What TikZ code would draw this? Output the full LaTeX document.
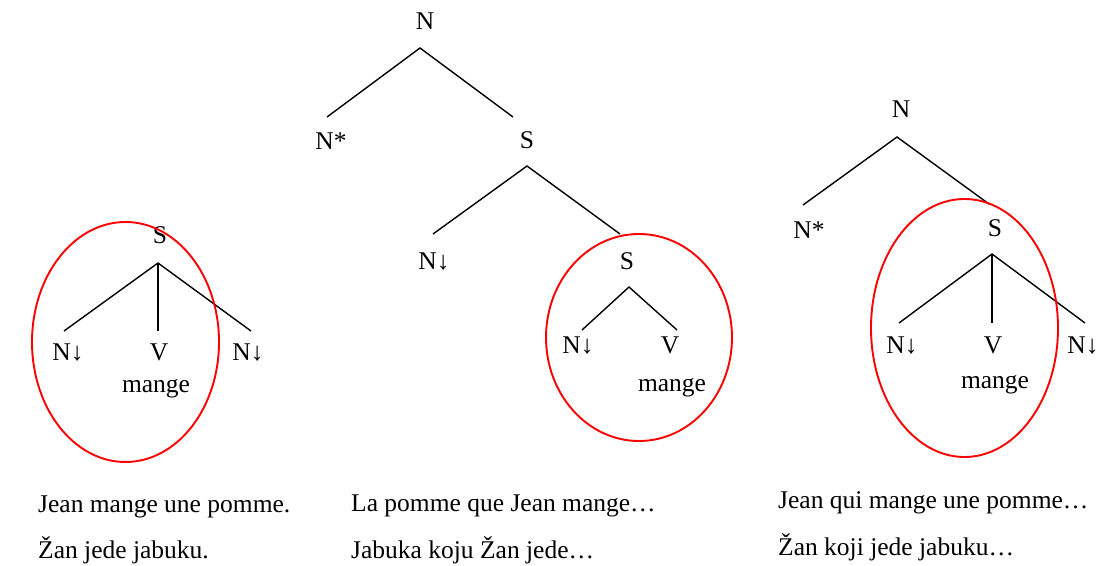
\documentclass[tikz,border=0pt]{standalone}
\usepackage{fontspec}
\setmainfont{Liberation Serif}
\usetikzlibrary{shapes.geometric}
\begin{document}
\begin{tikzpicture}[x=1pt,y=-1pt,
  lbl/.style={anchor=base,inner sep=0pt,font=\fontsize{25.5}{30}\selectfont},
  sent/.style={anchor=base west,inner sep=0pt,font=\fontsize{25.5}{30}\selectfont},
  edge/.style={line width=1.4pt,black},
  ring/.style={line width=1.9pt,red,draw,ellipse,inner sep=0pt}]
\useasboundingbox (0,0) rectangle (1116,565);
% ---------- tree 1
\node[lbl] (aS) at (160,243) {S};
\node[lbl] (aN1) at (68,360) {N↓};
\node[lbl] (aV) at (159,360) {V};
\node[lbl] (aN2) at (248,360) {N↓};
\node[lbl] (aM) at (156,392) {mange};
\coordinate (aSb) at (158,263);
\coordinate (aN1t) at (64,331);
\coordinate (aVt) at (158,331);
\coordinate (aN2t) at (251,331);
\draw[edge] (aN1t) -- (aSb) -- (aN2t);
\draw[edge] (aSb) -- (aVt);
\node[ring,minimum width=187pt,minimum height=240pt] (aE) at (125.5,342) {};
% ---------- tree 2
\node[lbl] (bN) at (425,29) {N};
\node[lbl] (bNs) at (331,149) {N*};
\node[lbl] (bS) at (527,148) {S};
\node[lbl] (bN1) at (434,269) {N↓};
\node[lbl] (bS2) at (627,269) {S};
\node[lbl] (bN2) at (578,353) {N↓};
\node[lbl] (bV) at (670,353) {V};
\node[lbl] (bM) at (672,391) {mange};
\coordinate (bNb) at (420,48);
\coordinate (bNst) at (327,117);
\coordinate (bSt) at (513,117);
\coordinate (bSb) at (527,166);
\coordinate (bN1t) at (433,234);
\coordinate (bS2t) at (620,234);
\coordinate (bS2b) at (629,287);
\coordinate (bN2t) at (582,330);
\coordinate (bVt) at (677,330);
\draw[edge] (bNst) -- (bNb) -- (bSt);
\draw[edge] (bN1t) -- (bSb) -- (bS2t);
\draw[edge] (bN2t) -- (bS2b) -- (bVt);
\node[ring,minimum width=186pt,minimum height=207pt] (bE) at (639,337.5) {};
% ---------- tree 3
\node[lbl] (cN) at (901,117) {N};
\node[lbl] (cNs) at (809,238) {N*};
\node[lbl] (cS) at (995,236) {S};
\node[lbl] (cN1) at (902,353) {N↓};
\node[lbl] (cV) at (993,353) {V};
\node[lbl] (cN2) at (1083,353) {N↓};
\node[lbl] (cM) at (995,388) {mange};
\coordinate (cNb) at (897,137);
\coordinate (cNst) at (803,205);
\coordinate (cSt) at (989,204);
\coordinate (cSb) at (992,254);
\coordinate (cN1t) at (899,323);
\coordinate (cVt) at (992,323);
\coordinate (cN2t) at (1085,323);
\draw[edge] (cNst) -- (cNb) -- (cSt);
\draw[edge] (cN1t) -- (cSb) -- (cN2t);
\draw[edge] (cSb) -- (cVt);
\node[ring,minimum width=187pt,minimum height=258pt] (cE) at (964.5,328) {};
% ---------- sentences
\node[sent] (s1a) at (38,512) {Jean mange une pomme.};
\node[sent] (s1b) at (38,558) {Žan jede jabuku.};
\node[sent] (s2a) at (351,511) {La pomme que Jean mange…};
\node[sent] (s2b) at (351,558) {Jabuka koju Žan jede…};
\node[sent] (s3a) at (778,508) {Jean qui mange une pomme…};
\node[sent] (s3b) at (778,555) {Žan koji jede jabuku…};
\end{tikzpicture}
\end{document}
